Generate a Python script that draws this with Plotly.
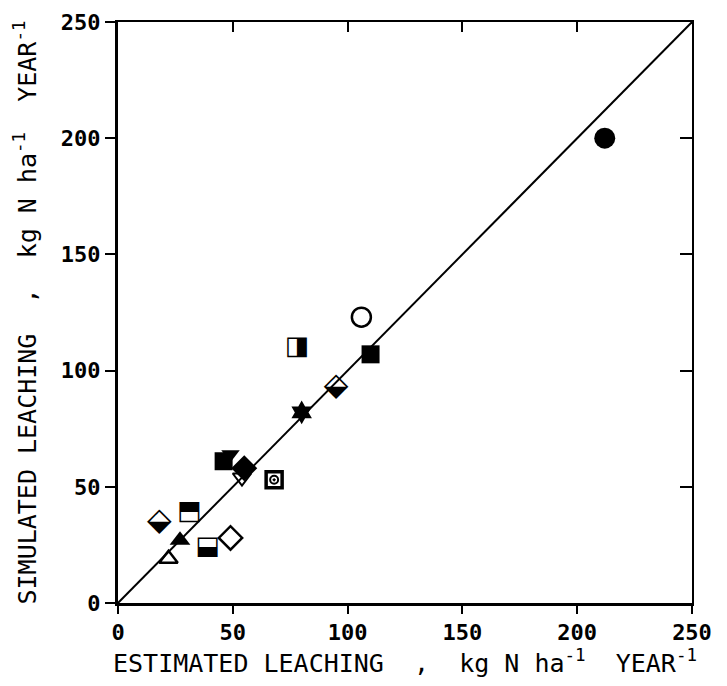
import plotly.graph_objects as go

# estimated (x) vs simulated (y) leaching, kg N / ha / year
filled_circle_x = [212]
filled_circle_y = [200]
open_circle_x = [106]
open_circle_y = [123]
filled_square_x = [110, 46]
filled_square_y = [107, 61]
filled_tri_down_x = [49]
filled_tri_down_y = [64]
open_tri_down_x = [54]
open_tri_down_y = [54]
star_x = [80]
star_y = [82]
filled_diamond_x = [55]
filled_diamond_y = [58]
open_diamond_x = [49]
open_diamond_y = [28]
box_circle_x = [68]
box_circle_y = [53]
filled_tri_x = [27]
filled_tri_y = [27]
open_tri_x = [22]
open_tri_y = [19]

# half filled symbols drawn as glyphs
half_sq_x = [78, 31, 39]
half_sq_y = [110, 39, 24]
half_sq_glyph = ["\u25E8", "\u2B12", "\u2B13"]
half_dia_x = [95, 18]
half_dia_y = [93, 35]
half_dia_glyph = ["\u2B19", "\u2B19"]

line_x = [0, 250]
line_y = [0, 250]
ticks = [0, 50, 100, 150, 200, 250]

fig = go.Figure()
fig.add_trace(go.Scatter(x=line_x, y=line_y, mode="lines",
                         line=dict(color="black", width=2)))


def pts(x, y, symbol, size, lw=0, fill="black"):
    fig.add_trace(go.Scatter(x=x, y=y, mode="markers",
                             marker=dict(symbol=symbol, size=size, color=fill,
                                         line=dict(color="black", width=lw))))


pts(filled_circle_x, filled_circle_y, "circle", 21)
pts(open_circle_x, open_circle_y, "circle-open", 19, 2.5)
pts(filled_square_x, filled_square_y, "square", 18)
pts(filled_tri_down_x, filled_tri_down_y, "triangle-down", 16)
pts(open_tri_down_x, open_tri_down_y, "triangle-down-open", 16, 2)
pts(star_x, star_y, "hexagram", 18)
pts(filled_diamond_x, filled_diamond_y, "diamond", 20)
pts(open_diamond_x, open_diamond_y, "diamond-open", 18, 2.5)
pts(box_circle_x, box_circle_y, "square-open", 16, 3.5)
pts(box_circle_x, box_circle_y, "circle-open-dot", 8, 2)
pts(filled_tri_x, filled_tri_y, "triangle-up", 18)
pts(open_tri_x, open_tri_y, "triangle-up-open", 16, 2.5)

fig.add_trace(go.Scatter(x=half_sq_x, y=half_sq_y, mode="text", text=half_sq_glyph,
                         textposition="middle center",
                         textfont=dict(family="DejaVu Sans", size=26, color="black")))
fig.add_trace(go.Scatter(x=half_dia_x, y=half_dia_y, mode="text", text=half_dia_glyph,
                         textposition="middle center",
                         textfont=dict(family="DejaVu Sans", size=32, color="black")))

font = dict(family="DejaVu Sans Mono", size=22, color="black", weight="bold")
title_font = dict(family="DejaVu Sans Mono", size=25, color="black")
sup = "<sup>-1</sup>"

# page body adds an 8px offset at the top left
fig.update_layout(
    width=719, height=678, showlegend=False,
    plot_bgcolor="white", paper_bgcolor="white",
    margin=dict(l=110, r=35, t=14, b=83),
    font=dict(family="DejaVu Sans Mono", color="black"),
    xaxis=dict(range=[0, 250], tickvals=ticks, ticks="outside", ticklen=8,
               tickwidth=2, tickcolor="black", showline=True, linewidth=3,
               linecolor="black", showgrid=False, zeroline=False,
               tickfont=font, automargin=False,
               title=dict(text="ESTIMATED LEACHING  ,  kg N ha" + sup + "  YEAR" + sup,
                          font=title_font, standoff=0)),
    yaxis=dict(range=[0, 250], tickvals=ticks, ticks="outside", ticklen=10,
               tickwidth=2, tickcolor="black", showline=True, linewidth=3,
               linecolor="black", showgrid=False, zeroline=False,
               tickfont=font, automargin=False,
               title=dict(text="SIMULATED LEACHING  ,  kg N ha" + sup + "  YEAR" + sup,
                          font=title_font, standoff=18)),
    xaxis2=dict(range=[0, 250], tickvals=ticks, ticks="inside", ticklen=10,
                tickwidth=2, tickcolor="black", showline=True, linewidth=2,
                linecolor="black", showgrid=False, zeroline=False,
                showticklabels=False, side="top", overlaying="x"),
    yaxis2=dict(range=[0, 250], tickvals=ticks, ticks="inside", ticklen=12,
                tickwidth=2, tickcolor="black", showline=True, linewidth=2,
                linecolor="black", showgrid=False, zeroline=False,
                showticklabels=False, side="right", overlaying="y"),
)
# dummy trace so the mirrored axes are drawn
fig.add_trace(go.Scatter(x=[0], y=[0], xaxis="x2", yaxis="y2", mode="markers",
                         marker=dict(opacity=0), hoverinfo="skip"))

fig.write_html("out.html")
